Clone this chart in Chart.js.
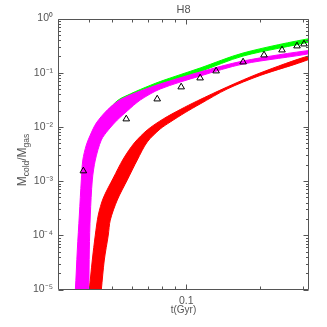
<!DOCTYPE html>
<html>
<head>
<meta charset="utf-8">
<script src="https://cdn.jsdelivr.net/npm/chart.js@4"></script>
<style>
  body { margin: 0; background: #fff; }
  canvas { display: block; }
</style>
</head>
<body>
<canvas id="chart" width="327" height="327"></canvas>
<script>
// band edges (t in Gyr, Mcold/Mgas)
const greenHiT = [0.03564, 0.03735, 0.03842, 0.03989, 0.04141, 0.04381, 0.04811, 0.05284, 0.05914, 0.06498, 0.07834, 0.1140, 0.1707, 0.3291]
const greenHiM = [6.4e-6, 2.37e-4, 2.45e-3, 4.64e-3, 7.09e-3, 1.18e-2, 2.05e-2, 3.13e-2, 4.05e-2, 4.90e-2, 6.88e-2, 0.122, 0.231, 0.437]
const greenLoT = [0.03842, 0.03915, 0.04064, 0.04464, 0.04902, 0.05643, 0.06498, 0.07834, 0.1140, 0.1707, 0.3291]
const greenLoM = [6.4e-6, 2.37e-4, 2.45e-3, 7.09e-3, 1.46e-2, 2.76e-2, 4.22e-2, 5.93e-2, 0.105, 0.203, 0.385]

const magHiT = [0.03499, 0.03531, 0.03597, 0.03666, 0.03735, 0.03788, 0.03915, 0.04064, 0.04299, 0.04766, 0.05284, 0.05914, 0.06498, 0.07834, 0.1140, 0.1707, 0.3291]
const magHiM = [6.4e-6, 9.8e-6, 5.36e-5, 2.37e-4, 1.05e-3, 2.45e-3, 4.64e-3, 7.09e-3, 1.18e-2, 2.05e-2, 3.01e-2, 3.88e-2, 4.60e-2, 6.19e-2, 0.103, 0.1643, 0.262]
const magLoT = [0.03989, 0.04008, 0.04026, 0.04064, 0.04141, 0.04259, 0.04506, 0.04811, 0.05235, 0.05750, 0.06498, 0.07834, 0.1140, 0.1707, 0.3291]
const magLoM = [6.4e-6, 9.8e-6, 5.36e-5, 2.37e-4, 1.05e-3, 2.45e-3, 5.73e-3, 8.77e-3, 1.34e-2, 1.97e-2, 3.13e-2, 5.00e-2, 8.69e-2, 0.1447, 0.231]

const redHiT = [0.03989, 0.04026, 0.04141, 0.04259, 0.04381, 0.04591, 0.05043, 0.05538, 0.06141, 0.06937, 0.08058, 0.09454, 0.1109, 0.1469, 0.2001, 0.3200]
const redHiM = [6.4e-6, 9.8e-6, 3.5e-5, 1.01e-4, 2.37e-4, 4.88e-4, 1.14e-3, 2.56e-3, 5.05e-3, 8.77e-3, 1.40e-2, 2.09e-2, 3.01e-2, 5.45e-2, 9.87e-2, 0.2077]
const redLoT = [0.04464, 0.04506, 0.04634, 0.04811, 0.04902, 0.05235, 0.05750, 0.06316, 0.06937, 0.07834, 0.08610, 0.0991, 0.1140, 0.1469, 0.2001, 0.3200]
const redLoM = [6.4e-6, 9.8e-6, 3.5e-5, 1.01e-4, 1.91e-4, 4.48e-4, 1.05e-3, 2.45e-3, 5.27e-3, 9.15e-3, 1.23e-2, 1.84e-2, 2.65e-2, 5.00e-2, 8.87e-2, 0.179]

// triangles
const obsT = [0.03806, 0.05696, 0.07618, 0.09542, 0.1140, 0.1325, 0.1707, 0.2078, 0.2460, 0.2832, 0.3025]
const obsM = [1.54e-3, 1.40e-2, 3.27e-2, 5.45e-2, 7.98e-2, 0.1075, 0.1575, 0.212, 0.262, 0.311, 0.338]

// ticks
const xMajor = [0.1]
const xMinor = [0.04, 0.05, 0.06, 0.07, 0.08, 0.09, 0.2, 0.3]
const yMajor = [1e-5, 1e-4, 1e-3, 1e-2, 1e-1, 1]

const txtColor = '#555'
const axisColor = '#555'
const sup = { '0': '⁰', '1': '¹', '2': '²', '3': '³', '4': '⁴', '5': '⁵', '-': '⁻' }

const pts = (ts, ms) => ts.map((t, i) => ({ x: t, y: ms[i] }))

// one closed outline per band: upper edge out, lower edge back
const band = (hiT, hiM, loT, loM, color) => ({
    data: pts(hiT, hiM).concat(pts(loT, loM).reverse()),
    borderColor: color,
    backgroundColor: color,
    borderWidth: 1,
    pointRadius: 0,
    tension: 0.3,
    fill: 'shape',
    clip: 0
})

// box + inward ticks on all four sides, like the IDL plot
const frame = {
    id: 'frame',
    afterDatasetsDraw(chart) {
        const { ctx, chartArea: a, scales: { x, y } } = chart
        const L = Math.round(a.left) + 0.5, R = Math.round(a.right) - 0.5
        const T = Math.round(a.top) + 0.5, B = Math.round(a.bottom) - 0.5
        ctx.save()
        ctx.strokeStyle = axisColor
        ctx.lineWidth = 1
        ctx.beginPath()
        ctx.rect(L, T, R - L, B - T)
        const xt = (v, len) => {
            const px = Math.round(x.getPixelForValue(v)) + 0.5
            ctx.moveTo(px, B); ctx.lineTo(px, B - len)
            ctx.moveTo(px, T); ctx.lineTo(px, T + len)
        }
        const yt = (v, len) => {
            const py = Math.round(y.getPixelForValue(v)) + 0.5
            ctx.moveTo(L, py); ctx.lineTo(L + len, py)
            ctx.moveTo(R, py); ctx.lineTo(R - len, py)
        }
        xMajor.forEach(v => xt(v, 5))
        xMinor.forEach(v => xt(v, 3))
        yMajor.forEach(v => yt(v, 5))
        yMajor.slice(0, -1).forEach(d => {
            for (let k = 2; k < 10; k++) yt(d * k, 2.5)
        })
        ctx.stroke()

        // y title with subscripts
        const parts = [['M', 12, 0], ['cold', 8.5, 3], ['/M', 12, 0], ['gas', 8.5, 3]]
        let w = 0
        parts.forEach(p => { ctx.font = p[1] + 'px "Liberation Sans"'; w += ctx.measureText(p[0]).width })
        ctx.translate(26, (a.top + a.bottom) / 2 + 6)
        ctx.rotate(-Math.PI / 2)
        ctx.fillStyle = txtColor
        ctx.textBaseline = 'alphabetic'
        let cx = -w / 2
        parts.forEach(p => {
            ctx.font = p[1] + 'px "Liberation Sans"'
            ctx.fillText(p[0], cx, p[2])
            cx += ctx.measureText(p[0]).width
        })
        ctx.restore()
    }
}

new Chart(document.getElementById('chart'), {
    type: 'line',
    data: {
        datasets: [
            {
                data: pts(obsT, obsM),
                showLine: false,
                pointStyle: 'triangle',
                pointRadius: 3.8,
                borderColor: '#000',
                backgroundColor: 'rgba(0,0,0,0)',
                borderWidth: 1
            },
            band(redHiT, redHiM, redLoT, redLoM, '#ff0000'),
            band(magHiT, magHiM, magLoT, magLoM, '#ff00ff'),
            band(greenHiT, greenHiM, greenLoT, greenLoM, '#00ff00')
        ]
    },
    options: {
        responsive: false,
        animation: false,
        devicePixelRatio: 1,
        layout: { padding: { left: 0, right: 18, top: 0, bottom: 0 } },
        elements: { line: { capBezierPoints: false } },
        plugins: {
            legend: { display: false },
            tooltip: { enabled: false },
            title: {
                display: true,
                text: 'H8',
                color: txtColor,
                fullSize: false,
                font: { family: 'Liberation Sans', size: 11, weight: 'normal', lineHeight: 1.2 },
                padding: { top: 3, bottom: 2.3 }
            }
        },
        scales: {
            x: {
                type: 'logarithmic',
                min: 0.03,
                max: 0.317,
                grid: { display: false, drawTicks: false },
                border: { display: false },
                afterBuildTicks: s => { s.ticks = xMajor.map(v => ({ value: v, major: true })) },
                afterFit: s => { s.height = 37.5 },
                ticks: {
                    autoSkip: false,
                    maxRotation: 0,
                    padding: 5,
                    color: txtColor,
                    font: { family: 'Liberation Sans', size: 10.5 },
                    callback: v => String(v)
                },
                title: {
                    display: true,
                    text: 't(Gyr)',
                    color: txtColor,
                    font: { family: 'Liberation Sans', size: 10 },
                    padding: { top: 0, bottom: 11 }
                }
            },
            y: {
                type: 'logarithmic',
                min: 1e-5,
                max: 1,
                grid: { display: false, drawTicks: false },
                border: { display: false },
                afterBuildTicks: s => { s.ticks = yMajor.map(v => ({ value: v, major: true })) },
                afterFit: s => { s.width = 58 },
                ticks: {
                    autoSkip: false,
                    padding: 5,
                    color: txtColor,
                    font: { family: 'Liberation Sans', size: 10.5 },
                    callback: v => {
                        const e = String(Math.round(Math.log10(v)))
                        return '10' + e.split('').map(c => sup[c]).join('')
                    }
                }
            }
        }
    },
    plugins: [frame]
})
</script>
</body>
</html>
